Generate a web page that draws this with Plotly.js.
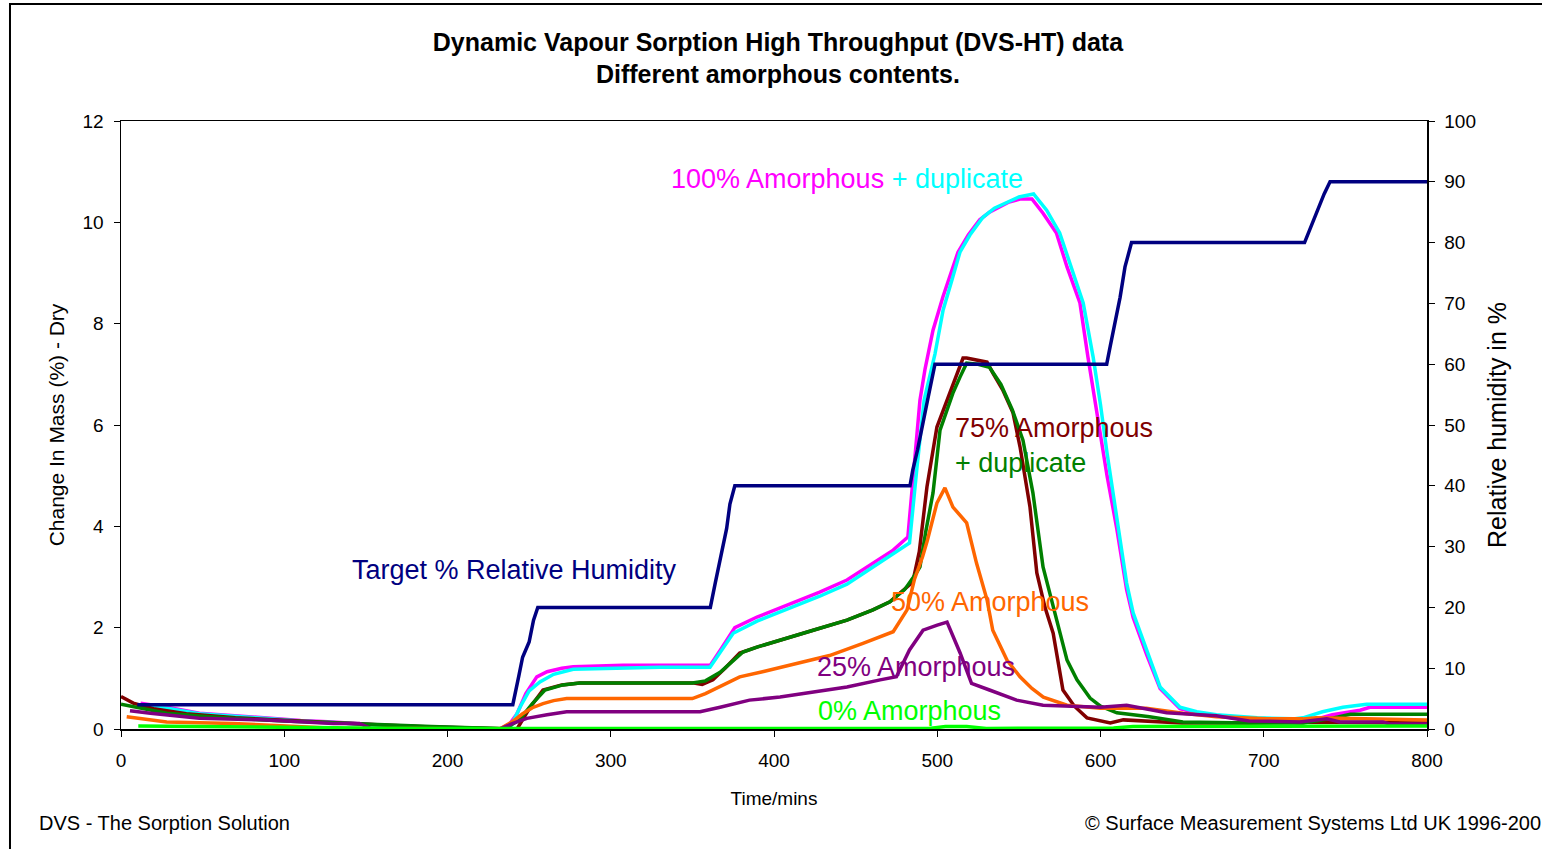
<!DOCTYPE html>
<html>
<head>
<meta charset="utf-8">
<script src="https://cdn.plot.ly/plotly-3.0.1.min.js"></script>
<style>html,body{margin:0;padding:0;background:#fff;}#chart{width:1542px;height:849px;}</style>
</head>
<body>
<div id="chart"></div>
<script>
// ---- Data ----
// 100% amorphous (magenta)
const t100 = [12,30,48,70,89,110,130,150,171,200,232,238,242.6,248,254.7,261,270,277,290,307.5,340,361,368,376,389.6,403.7,416,428,444.7,460.6,473,482,484,486,489.4,492.5,495.5,497.4,503.5,508,512.7,519,526,532,538.4,544,550.7,558,564.8,573,579.5,587.4,592.3,596,599.7,604,610,616,620,628.5,636.5,648.7,661,676,691,708,724,742,759,765,800];
const m100 = [0.51,0.42,0.31,0.26,0.21,0.17,0.14,0.10,0.05,0.03,0.00,0.10,0.30,0.70,1.03,1.13,1.20,1.23,1.25,1.26,1.26,1.26,1.60,2.00,2.21,2.39,2.55,2.70,2.94,3.28,3.53,3.79,4.50,5.40,6.49,7.10,7.62,7.87,8.53,8.95,9.41,9.75,10.05,10.20,10.30,10.40,10.46,10.46,10.18,9.79,9.12,8.41,7.34,6.60,5.90,5.00,3.95,2.75,2.20,1.45,0.80,0.40,0.30,0.24,0.18,0.15,0.12,0.28,0.37,0.43,0.43];
// 100% amorphous duplicate (cyan)
const t100d = [18,30,48,70,89,110,130,150,171,200,232,238,244.4,250,256.6,265,277,300,330,360.8,368,375,389.6,403.7,416,428,444.7,460.6,473,483,487.6,492,498.6,503.6,509,513.9,520,528,535,542.7,550,559,567,575,581.3,589.4,595.5,600,604,610,616,620,628.5,636.5,648.7,659,671,696,718,724,736,748.5,763,800];
const m100d = [0.45,0.40,0.30,0.25,0.20,0.16,0.13,0.09,0.05,0.03,0.00,0.00,0.43,0.75,0.93,1.08,1.18,1.20,1.22,1.22,1.55,1.89,2.13,2.31,2.47,2.62,2.86,3.20,3.45,3.67,5.17,6.50,7.40,8.27,8.86,9.41,9.75,10.10,10.28,10.40,10.50,10.56,10.24,9.79,9.20,8.41,7.34,6.40,5.45,4.18,2.88,2.29,1.56,0.83,0.43,0.34,0.28,0.22,0.20,0.22,0.34,0.43,0.49,0.49];
// 75% amorphous (dark red)
const t75 = [0,7.5,20,40,70,100,130,160,190,220,238,242.6,250,258.5,270,281,300,350,356,362.6,370,379,390,403.7,424,444.7,460.6,471,480,485,489,493.7,499.8,506,511,515.8,518,524,530.5,534,540,546.4,550.7,556.8,561,566,571,577,584,591.7,601.5,606,614,630,650,691,724,760,800];
const m75 = [0.64,0.51,0.40,0.30,0.22,0.17,0.12,0.08,0.04,0.02,0.00,0.00,0.40,0.77,0.87,0.91,0.91,0.91,0.88,0.97,1.20,1.50,1.62,1.76,1.95,2.15,2.35,2.51,2.75,2.90,3.50,4.78,5.96,6.49,6.95,7.32,7.32,7.28,7.24,7.03,6.70,6.24,5.57,4.38,3.08,2.40,1.89,0.77,0.45,0.22,0.14,0.12,0.18,0.16,0.12,0.12,0.14,0.13,0.12];
// 75% amorphous duplicate (green)
const t75d = [0,28,50,68.6,100,130,160,190,220,235,244,252,259.7,270.7,281,300,350,358,367,374,381,390,403.7,424,444.7,460.6,471,480,487.6,489.4,493,497.4,501.7,509.6,514,518,525,532,539,546,552.5,558.6,564.8,571,579.5,585.6,593.6,600,610,630,650.5,691,724,740,753,800];
const m75d = [0.49,0.31,0.25,0.21,0.16,0.12,0.08,0.05,0.02,0.00,0.18,0.50,0.77,0.87,0.91,0.91,0.91,0.95,1.12,1.32,1.52,1.62,1.76,1.95,2.15,2.35,2.51,2.75,3.10,3.20,3.90,4.66,5.90,6.63,6.95,7.22,7.20,7.14,6.80,6.30,5.70,4.66,3.20,2.41,1.36,0.97,0.61,0.45,0.32,0.24,0.14,0.12,0.12,0.20,0.29,0.29];
// 50% amorphous (orange)
const t50 = [3.5,28,68.6,110,140,180,232,240,246,252,258.5,265,273,300,350,358,367,379,393,414,434,454.5,473,481.5,486,491,494,499.8,504.7,509.6,518,524,530.5,534,542.7,550.7,558,565,579.5,600,628,650.5,671,702,724,732,760,800];
const m50 = [0.24,0.14,0.11,0.05,0.00,0.01,0.00,0.15,0.30,0.42,0.50,0.56,0.60,0.60,0.60,0.70,0.84,1.03,1.13,1.30,1.45,1.69,1.92,2.35,2.95,3.40,3.73,4.46,4.76,4.38,4.07,3.28,2.55,1.95,1.36,1.03,0.80,0.63,0.47,0.41,0.41,0.31,0.24,0.20,0.20,0.22,0.20,0.18];
// 25% amorphous (purple)
const t25 = [5.5,18,48,89,130,146,154,200,232,240,248.6,261,273,300,354.7,367,379,385,403.7,424,444.7,465,475,483,491.3,500,506,514,521,532,548.6,564.8,600,616,626,640.5,671,691,722,738.6,746.7,773,777,800];
const m25 = [0.36,0.31,0.21,0.18,0.11,0.11,0.00,0.00,0.00,0.11,0.21,0.28,0.34,0.34,0.34,0.43,0.53,0.57,0.63,0.73,0.83,0.97,1.03,1.56,1.95,2.05,2.11,1.50,0.90,0.77,0.57,0.47,0.43,0.47,0.41,0.32,0.26,0.16,0.14,0.20,0.14,0.14,0.10,0.10];
// 0% amorphous (lime)
const t0 = [10.6,40,73,120,180,240,300,400,495,505,518,530,600,608,620,700,800];
const m0 = [0.06,0.05,0.04,0.02,0.01,0.01,0.01,0.01,0.01,0.05,0.05,0.01,0.01,0.02,0.05,0.05,0.06];
// Target % relative humidity (navy, right axis)
const tRH = [10,240,243.6,246,250,252.7,255.3,361,364,367,371,373,376,483.3,485,488,491,494,498.6,603.8,606,609,612,615,619,725,728,731,734,737,740.6,800];
const rh  = [4,4,8.6,11.8,14.3,17.9,20,20,24,28,33,37,40,40,42.6,46,49.7,54,60,60,63,67,71,76,80,80,82,84,86,88,90,90];

const xTicks = [0,100,200,300,400,500,600,700,800];
const yTicks = [0,2,4,6,8,10,12];
const y2Ticks = [0,10,20,30,40,50,60,70,80,90,100];

const FONT = 'Liberation Sans, Arial, sans-serif';

function line(x, y, color, name, axis) {
  return {x: x, y: y, type: 'scatter', mode: 'lines', name: name,
          yaxis: axis || 'y', line: {color: color, width: 3.5}, hoverinfo: 'x+y'};
}

const traces = [
  line(t100, m100, '#FF00FF', '100% Amorphous'),
  line(t100d, m100d, '#00FFFF', '100% Amorphous duplicate'),
  line(t75, m75, '#800000', '75% Amorphous'),
  line(t75d, m75d, '#008000', '75% Amorphous duplicate'),
  line(t50, m50, '#FF6600', '50% Amorphous'),
  line(t25, m25, '#800080', '25% Amorphous'),
  line(t0, m0, '#00FF00', '0% Amorphous'),
  line(tRH, rh, '#000080', 'Target % Relative Humidity', 'y2')
];

const axisCommon = {
  showgrid: false, zeroline: false, showline: true, linecolor: '#000', linewidth: 1.5,
  ticks: 'outside', ticklen: 6, tickwidth: 1, tickcolor: '#000',
  tickfont: {family: FONT, size: 19, color: '#000'}
};

function ann(x, y, text, color) {
  return {x: x, y: y, xref: 'x', yref: 'y', text: text, showarrow: false,
          xanchor: 'left', yanchor: 'middle', font: {family: FONT, size: 27, color: color}};
}

const layout = {
  width: 1542, height: 849,
  margin: {l: 121, r: 115, t: 121, b: 120},
  paper_bgcolor: '#fff', plot_bgcolor: '#fff',
  showlegend: false,
  title: {
    text: 'Dynamic Vapour Sorption High Throughput (DVS-HT) data<br>Different amorphous contents.',
    font: {family: FONT, size: 25, color: '#000', weight: 700},
    xref: 'paper', x: 0.503, xanchor: 'center',
    yref: 'container', y: 0.94, yanchor: 'middle'
  },
  xaxis: Object.assign({}, axisCommon, {
    range: [0, 800], tickvals: xTicks, mirror: true, ticklabelstandoff: 8,
    title: {text: 'Time/mins', font: {family: FONT, size: 19, color: '#000'}, standoff: 21}
  }),
  yaxis: Object.assign({}, axisCommon, {
    range: [0, 12], tickvals: yTicks, ticklabelstandoff: 6,
    title: {text: 'Change In Mass (%) - Dry', font: {family: FONT, size: 21, color: '#000'}, standoff: 12}
  }),
  yaxis2: Object.assign({}, axisCommon, {
    range: [0, 100], tickvals: y2Ticks, overlaying: 'y', side: 'right', ticklabelstandoff: 6,
    title: {text: 'Relative humidity in %', font: {family: FONT, size: 25, color: '#000'}, standoff: 13}
  }),
  annotations: [
    ann(335.7, 10.85, '<span style="color:#FF00FF">100% Amorphous</span><span style="color:#00FFFF"> + duplicate</span>', '#FF00FF'),
    ann(140.3, 3.14, 'Target % Relative Humidity', '#000080'),
    ann(509.6, 5.94, '75% Amorphous', '#800000'),
    ann(509.6, 5.25, '+ duplicate', '#008000'),
    ann(470.4, 2.51, '50% Amorphous', '#FF6600'),
    ann(425.1, 1.22, '25% Amorphous', '#800080'),
    ann(425.7, 0.355, '0% Amorphous', '#00FF00'),
    {x: -0.0643, y: -0.1546, xref: 'paper', yref: 'paper', xanchor: 'left', yanchor: 'middle',
     showarrow: false, text: 'DVS - The Sorption Solution', font: {family: FONT, size: 20, color: '#000'}},
    {x: 0.7366, y: -0.1546, xref: 'paper', yref: 'paper', xanchor: 'left', yanchor: 'middle',
     showarrow: false, text: '© Surface Measurement Systems Ltd UK 1996-200', font: {family: FONT, size: 20, color: '#000'}}
  ],
  shapes: [
    {type: 'rect', xref: 'paper', yref: 'paper', x0: -0.085, x1: 1.11, y0: -0.2, y1: 1.1924,
     line: {color: '#000', width: 2}, fillcolor: 'rgba(0,0,0,0)', layer: 'above'}
  ]
};

Plotly.newPlot('chart', traces, layout, {displayModeBar: false, staticPlot: true});
</script>
</body>
</html>
